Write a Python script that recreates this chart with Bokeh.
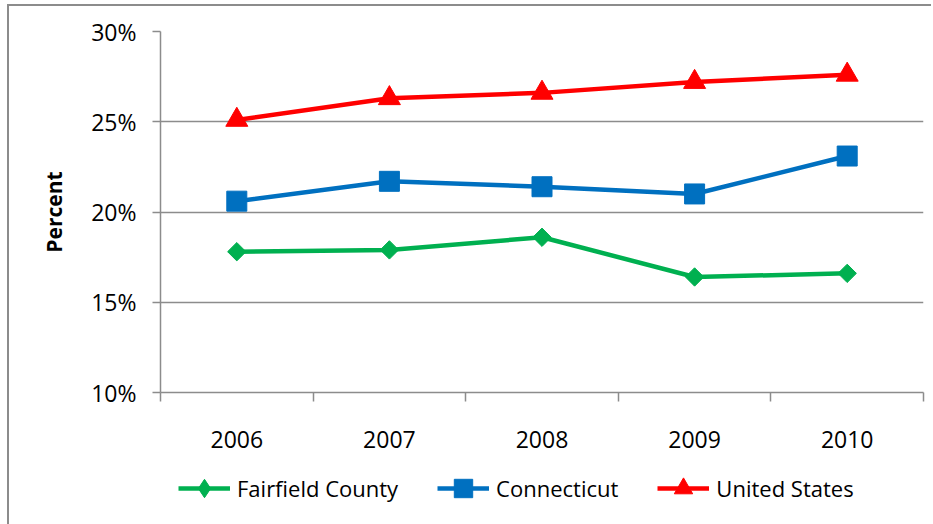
import math
from bokeh.plotting import figure
from bokeh.layouts import column
from bokeh.models import (Range1d, FixedTicker, PrintfTickFormatter, CustomJSTickFormatter,
                          Legend, LegendItem)
from bokeh.embed import file_html
from bokeh.resources import INLINE

years = ["2006", "2007", "2008", "2009", "2010"]
fairfield = [17.8, 17.9, 18.6, 16.4, 16.6]
connecticut = [20.6, 21.7, 21.4, 21.0, 23.1]
united_states = [25.1, 26.3, 26.6, 27.2, 27.6]
y_ticks = [10, 15, 20, 25, 30]

xs = [i + 0.5 for i in range(len(years))]
bounds = list(range(len(years) + 1))

FONT = "Open Sans"
GRAY = "#8c8c8c"
W = 922

p = figure(width=W, height=454, output_backend="svg", toolbar_location=None,
           x_range=Range1d(0, len(years)), y_range=Range1d(10, 30),
           min_border_left=151, min_border_right=8, min_border_top=25, min_border_bottom=68)
p.outline_line_color = None
p.background_fill_color = "white"
p.border_fill_color = "white"

# grid
p.xgrid.grid_line_color = None
p.ygrid.grid_line_color = GRAY
p.ygrid.grid_line_width = 1.5
p.ygrid.ticker = FixedTicker(ticks=y_ticks)

# y axis
p.yaxis.ticker = FixedTicker(ticks=y_ticks)
p.yaxis.formatter = PrintfTickFormatter(format="%d%%")
p.yaxis.axis_line_color = GRAY
p.yaxis.axis_line_width = 1.5
p.yaxis.major_tick_line_color = GRAY
p.yaxis.major_tick_line_width = 1.5
p.yaxis.major_tick_out = 8
p.yaxis.major_tick_in = 0
p.yaxis.minor_tick_line_color = None
p.yaxis.major_label_text_font = FONT
p.yaxis.major_label_text_font_size = "23px"
p.yaxis.major_label_text_color = "black"
p.yaxis.major_label_standoff = 16
p.yaxis.axis_label = "Percent"
p.yaxis.axis_label_text_font = FONT
p.yaxis.axis_label_text_font_style = "bold"
p.yaxis.axis_label_text_font_size = "21px"
p.yaxis.axis_label_text_color = "black"
p.yaxis.axis_label_standoff = 20

# x axis
p.xaxis.ticker = FixedTicker(ticks=xs, minor_ticks=bounds)
p.xaxis.formatter = CustomJSTickFormatter(args=dict(labels=years),
                                          code="return labels[Math.floor(tick)];")
p.xaxis.axis_line_color = GRAY
p.xaxis.axis_line_width = 1.5
p.xaxis.major_tick_line_color = None
p.xaxis.major_tick_out = 9
p.xaxis.major_tick_in = 0
p.xaxis.minor_tick_line_color = GRAY
p.xaxis.minor_tick_line_width = 1.5
p.xaxis.minor_tick_out = 9
p.xaxis.minor_tick_in = 0
p.xaxis.major_label_text_font = FONT
p.xaxis.major_label_text_font_size = "23px"
p.xaxis.major_label_text_color = "black"
p.xaxis.major_label_standoff = 29

# legend figure (its data lie outside its own ranges, so only the legend shows)
lf = figure(width=W, height=64, output_backend="svg", toolbar_location=None,
            x_range=Range1d(-1, 0), y_range=Range1d(0, 1),
            min_border=0, min_border_left=0, min_border_right=0,
            min_border_top=0, min_border_bottom=0)
lf.axis.visible = False
lf.grid.visible = False
lf.outline_line_color = None
lf.background_fill_color = "white"
lf.border_fill_color = "white"

series = [
    ("Fairfield County", fairfield, "#00B050", "square", 13, math.pi / 4, "diamond"),
    ("Connecticut", connecticut, "#0070C0", "square", 20, 0, "square"),
    ("United States", united_states, "#FF0000", "triangle", 22, 0, "triangle"),
]
items = []
for name, vals, color, marker, size, angle, lmarker in series:
    p.line(xs, vals, line_color=color, line_width=4.5)
    p.scatter(xs, vals, marker=marker, size=size, angle=angle,
              fill_color=color, line_color=color)
    ll = lf.line(xs, vals, line_color=color, line_width=4.5)
    lg = lf.scatter(xs, vals, marker=lmarker, size=size,
                    fill_color=color, line_color=color)
    items.append(LegendItem(label=name, renderers=[ll, lg]))

legend = Legend(items=items, orientation="horizontal", location=(18, 13),
                glyph_width=52, glyph_height=46, label_standoff=7, spacing=39,
                padding=0, margin=0, border_line_color=None, background_fill_alpha=0,
                label_text_font=FONT, label_text_font_size="22px", label_text_color="black")
lf.add_layout(legend)

layout = column(p, lf, spacing=0)
layout.styles = {"margin-left": "7px", "margin-top": "4px",
                 "border-left": "2px solid #8c8c8c", "border-top": "2px solid #8c8c8c"}

open("out.html", "w").write(file_html(layout, INLINE))
